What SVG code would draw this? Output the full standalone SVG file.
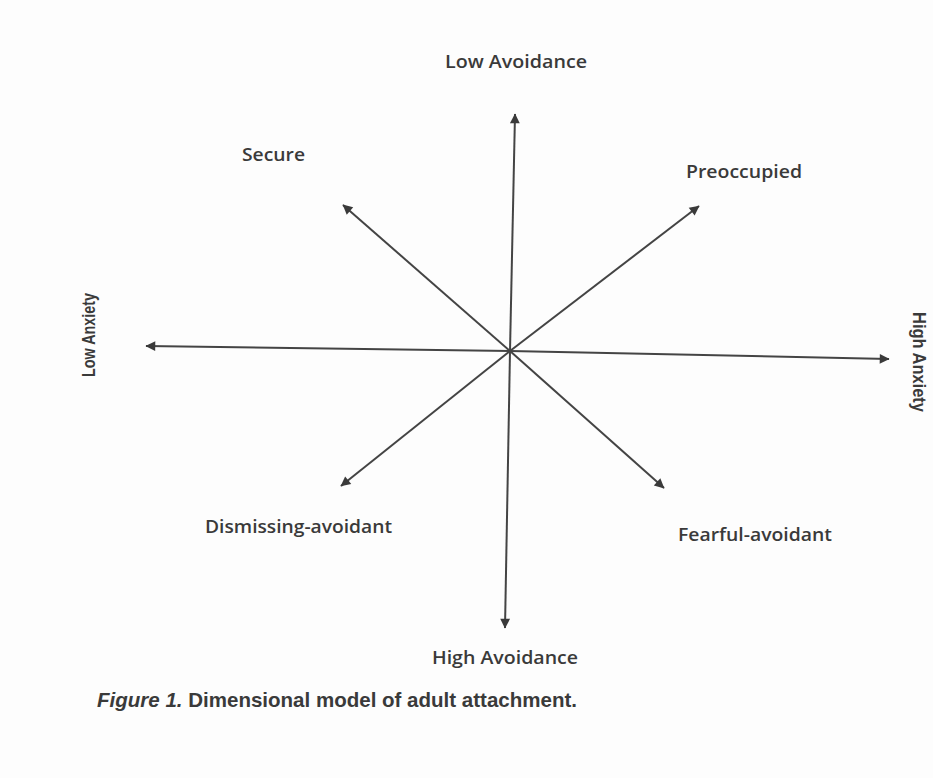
<svg xmlns="http://www.w3.org/2000/svg" width="933" height="778" viewBox="0 0 933 778">
<defs>
<marker id="ah" viewBox="0 0 10 10" refX="9" refY="5" markerWidth="7" markerHeight="7" markerUnits="userSpaceOnUse" orient="auto" style="overflow:visible">
<path d="M0,0 L10,5 L0,10 z" fill="#3a3a3a" transform="scale(1.4) translate(-3,-1.4)"/>
</marker>
<style>
.ax{stroke:#444;stroke-width:2;fill:none;marker-end:url(#ah)}
.lb{font-family:"Open Sans","Liberation Sans",sans-serif;font-weight:600;fill:#3a3a3a;font-size:18.5px}
.rt{font-family:"Liberation Sans",Arial,sans-serif;font-weight:700;font-size:18px}
.cap{font-family:"Liberation Sans",Arial,sans-serif;font-weight:bold;fill:#3a3a3a;font-size:20.5px}
</style>
</defs>
<rect width="933" height="778" fill="#fdfdfd"/>
<g id="connectors">
<line class="ax" x1="510" y1="351" x2="515" y2="114"/>
<line class="ax" x1="510" y1="351" x2="505" y2="628"/>
<line class="ax" x1="510" y1="351" x2="146" y2="346"/>
<line class="ax" x1="510" y1="351" x2="889" y2="359"/>
<line class="ax" x1="510" y1="351" x2="343" y2="205"/>
<line class="ax" x1="510" y1="351" x2="699" y2="206"/>
<line class="ax" x1="510" y1="351" x2="341" y2="486"/>
<line class="ax" x1="510" y1="351" x2="664" y2="488"/>
</g>
<g id="low-avoidance"><text class="lb" x="516" y="68" text-anchor="middle" textLength="142" lengthAdjust="spacingAndGlyphs">Low Avoidance</text></g>
<g id="high-avoidance"><text class="lb" x="505" y="664" text-anchor="middle" textLength="146" lengthAdjust="spacingAndGlyphs">High Avoidance</text></g>
<g id="secure"><text class="lb" x="242" y="161" textLength="63" lengthAdjust="spacingAndGlyphs">Secure</text></g>
<g id="preoccupied"><text class="lb" x="686" y="178" textLength="116" lengthAdjust="spacingAndGlyphs">Preoccupied</text></g>
<g id="dismissing"><text class="lb" x="205" y="533" textLength="187" lengthAdjust="spacingAndGlyphs">Dismissing-avoidant</text></g>
<g id="fearful"><text class="lb" x="678" y="541" textLength="154" lengthAdjust="spacingAndGlyphs">Fearful-avoidant</text></g>
<g id="low-anxiety"><text class="lb rt" transform="translate(95,335) rotate(-90)" text-anchor="middle" textLength="84" lengthAdjust="spacingAndGlyphs">Low Anxiety</text></g>
<g id="high-anxiety"><text class="lb rt" transform="translate(913,362) rotate(90)" text-anchor="middle" textLength="100" lengthAdjust="spacingAndGlyphs">High Anxiety</text></g>
<g id="caption"><text class="cap" x="97" y="707" textLength="480" lengthAdjust="spacingAndGlyphs"><tspan font-style="italic">Figure 1.</tspan> Dimensional model of adult attachment.</text></g>
</svg>
